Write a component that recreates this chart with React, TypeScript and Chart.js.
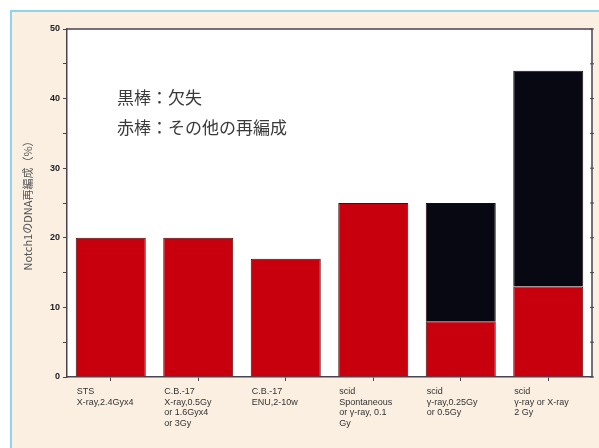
import React, { useEffect, useRef } from 'react';
import { Chart, registerables } from 'chart.js';

Chart.register(...registerables);

const categories: string[][] = [
  ['STS', 'X-ray,2.4Gyx4'],
  ['C.B.-17', 'X-ray,0.5Gy', 'or 1.6Gyx4', 'or 3Gy'],
  ['C.B.-17', 'ENU,2-10w'],
  ['scid', 'Spontaneous', 'or γ-ray, 0.1', 'Gy'],
  ['scid', 'γ-ray,0.25Gy', 'or 0.5Gy'],
  ['scid', 'γ-ray or X-ray', '2 Gy'],
];
const redValues = [20, 20, 17, 25, 8, 13];
const blackValues = [null, null, null, null, 17, 31];
const yMin = 0;
const yMax = 50;
const yStep = 5;
const yLabelStep = 10;
const yAxisTitle = 'Notch1のDNA再編成（%）';
const noteLines = ['黒棒：欠失', '赤棒：その他の再編成'];

const AXIS_COLOR = '#4a4450';

const framePlugin = {
  id: 'frame',
  beforeDraw(chart: any) {
    const { ctx, chartArea } = chart;
    ctx.save();
    ctx.fillStyle = '#ffffff';
    ctx.fillRect(chartArea.left, chartArea.top, chartArea.right - chartArea.left, chartArea.bottom - chartArea.top);
    ctx.restore();
  },
  afterDraw(chart: any) {
    const { ctx, chartArea } = chart;
    const y = chart.scales.y;
    ctx.save();
    ctx.strokeStyle = AXIS_COLOR;
    ctx.lineWidth = 1.5;
    ctx.beginPath();
    ctx.moveTo(chartArea.left, chartArea.top);
    ctx.lineTo(chartArea.right, chartArea.top);
    ctx.lineTo(chartArea.right, chartArea.bottom);
    ctx.stroke();
    ctx.lineWidth = 1;
    for (let v = yMin; v <= yMax; v += yStep) {
      const py = y.getPixelForValue(v);
      ctx.beginPath();
      ctx.moveTo(chartArea.right - 2, py);
      ctx.lineTo(chartArea.right + 2, py);
      ctx.stroke();
    }
    ctx.fillStyle = '#3a3a3a';
    ctx.font = '17px "Noto Sans CJK JP", sans-serif';
    ctx.textBaseline = 'middle';
    ctx.textAlign = 'left';
    noteLines.forEach((t, i) => {
      ctx.fillText(t, chartArea.left + 50, chartArea.top + 69 + i * 30);
    });
    ctx.restore();
  },
};

export default function App() {
  const ref = useRef<HTMLCanvasElement>(null);
  useEffect(() => {
    if (!ref.current) return;
    const chart = new Chart(ref.current, {
      type: 'bar',
      data: {
        labels: categories,
        datasets: [
          {
            label: '赤棒',
            data: redValues,
            backgroundColor: '#c8000e',
            borderColor: '#4a0a0a',
            borderWidth: 1,
            barPercentage: 0.8,
            categoryPercentage: 1,
          },
          {
            label: '黒棒',
            data: blackValues as any,
            backgroundColor: '#080812',
            borderColor: '#200808',
            borderWidth: 1,
            barPercentage: 0.8,
            categoryPercentage: 1,
          },
        ],
      },
      options: {
        animation: false,
        responsive: true,
        maintainAspectRatio: false,
        layout: { padding: { top: 17, right: 7, left: 0, bottom: 0 } },
        plugins: {
          legend: { display: false },
          tooltip: { enabled: false },
        },
        scales: {
          x: {
            stacked: true,
            offset: true,
            grid: {
              display: true,
              drawOnChartArea: false,
              drawTicks: true,
              tickLength: 4,
              offset: false,
              color: AXIS_COLOR,
            },
            border: { display: true, color: AXIS_COLOR, width: 1.5 },
            ticks: {
              align: 'start',
              labelOffset: -34,
              autoSkip: false,
              maxRotation: 0,
              minRotation: 0,
              padding: 5,
              color: '#333',
              font: { family: '"Liberation Sans", Arial, sans-serif', size: 9, lineHeight: 1.2 },
            },
            afterFit(scale: any) {
              scale.height = 71;
              scale.paddingLeft = 0;
              scale.paddingRight = 0;
            },
          },
          y: {
            stacked: true,
            min: yMin,
            max: yMax,
            grid: {
              display: true,
              drawOnChartArea: false,
              drawTicks: true,
              tickLength: 4,
              color: AXIS_COLOR,
            },
            border: { display: true, color: AXIS_COLOR, width: 1.5 },
            ticks: {
              stepSize: yStep,
              padding: 3,
              color: '#222',
              font: { family: '"Liberation Sans", Arial, sans-serif', size: 9, weight: 'bold' },
              callback: (v: any) => (Number(v) % yLabelStep === 0 ? String(v) : ''),
            },
            title: {
              display: true,
              text: yAxisTitle,
              color: '#555',
              font: { family: '"Noto Sans CJK JP", sans-serif', size: 11 },
              padding: { top: 9, bottom: 0 },
            },
            afterFit(scale: any) {
              scale.width = 55;
              scale.paddingTop = 0;
              scale.paddingBottom = 0;
            },
          },
        },
      },
      plugins: [framePlugin],
    });
    return () => chart.destroy();
  }, []);

  return (
    <div style={{ position: 'fixed', left: 0, top: 0, width: 599, height: 448, background: '#ffffff' }}>
      <div
        style={{
          position: 'absolute',
          left: 10,
          top: 10,
          width: 589,
          height: 438,
          boxSizing: 'border-box',
          background: '#fbefe2',
          borderLeft: '2px solid #8fd3ea',
          borderTop: '2px solid #8fd3ea',
        }}
      >
        <div style={{ position: 'relative', width: 587, height: 436 }}>
          <canvas ref={ref} />
        </div>
      </div>
    </div>
  );
}
